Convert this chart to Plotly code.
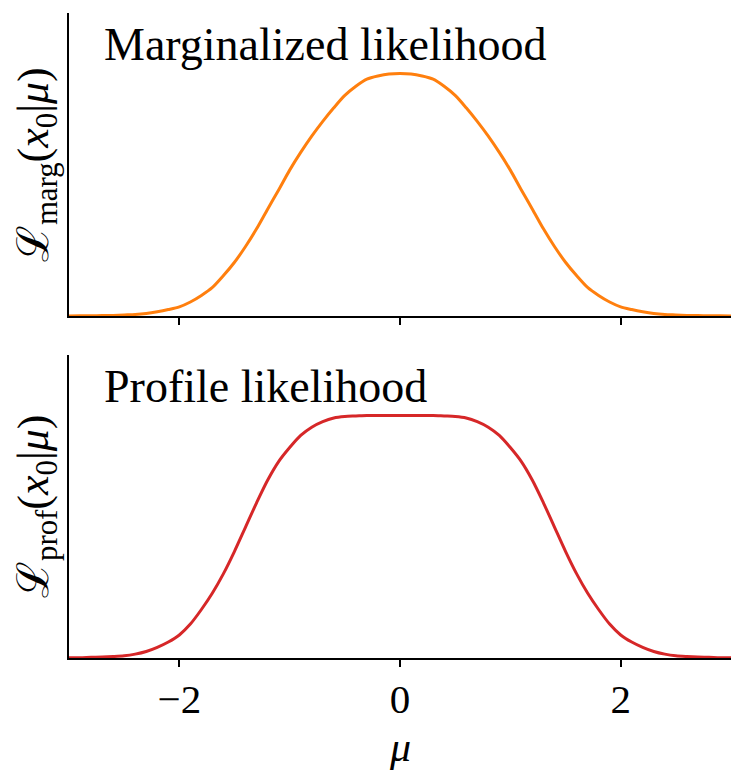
import plotly.graph_objects as go

# mu grid
mu = [-3.0, -2.9, -2.8, -2.7, -2.6, -2.5, -2.4, -2.3, -2.2, -2.1, -2.0, -1.9, -1.8, -1.7, -1.6,
      -1.5, -1.4, -1.3, -1.2, -1.1, -1.0, -0.9, -0.8, -0.7, -0.6, -0.5, -0.4, -0.3, -0.2, -0.1,
      0.0, 0.1, 0.2, 0.3, 0.4, 0.5, 0.6, 0.7, 0.8, 0.9, 1.0, 1.1, 1.2, 1.3, 1.4, 1.5, 1.6, 1.7,
      1.8, 1.9, 2.0, 2.1, 2.2, 2.3, 2.4, 2.5, 2.6, 2.7, 2.8, 2.9, 3.0]

# marginalized likelihood (normalised to peak 1)
L_marg = [0.0005, 0.001, 0.0015, 0.002, 0.003, 0.005, 0.007, 0.011, 0.018, 0.027, 0.038, 0.058,
          0.085, 0.118, 0.167, 0.222, 0.287, 0.36, 0.441, 0.52, 0.602, 0.675, 0.742, 0.803,
          0.859, 0.91, 0.948, 0.977, 0.99, 0.998,
          1.0,
          0.998, 0.99, 0.977, 0.948, 0.91, 0.859, 0.803, 0.742, 0.675, 0.602, 0.52, 0.441, 0.36,
          0.287, 0.222, 0.167, 0.118, 0.085, 0.058, 0.038, 0.027, 0.018, 0.011, 0.007, 0.005,
          0.003, 0.002, 0.0015, 0.001, 0.0005]

# profile likelihood (normalised to peak 1)
L_prof = [0.001, 0.0015, 0.003, 0.004, 0.006, 0.009, 0.016, 0.027, 0.044, 0.066, 0.095, 0.14,
          0.20, 0.268, 0.348, 0.44, 0.54, 0.64, 0.733, 0.81, 0.868, 0.918, 0.952, 0.975, 0.99,
          0.996, 0.998, 1.0, 1.0, 1.0,
          1.0,
          1.0, 1.0, 1.0, 0.998, 0.996, 0.99, 0.975, 0.952, 0.918, 0.868, 0.81, 0.733, 0.64,
          0.54, 0.44, 0.348, 0.268, 0.20, 0.14, 0.095, 0.066, 0.044, 0.027, 0.016, 0.009,
          0.006, 0.004, 0.003, 0.0015, 0.001]

tick_vals = [-2, 0, 2]
panel_titles = ["Marginalized likelihood", "Profile likelihood"]
y_labels = ["ℒ<sub>marg</sub>(<i>x</i><sub>0</sub>|<i>μ</i>)",
            "ℒ<sub>prof</sub>(<i>x</i><sub>0</sub>|<i>μ</i>)"]
x_label = "<i>μ</i>"

FONT = "Liberation Serif, DejaVu Serif, serif"
# page body adds an 8px offset; compensate so the axes land where the reference has them
W, H = 736, 774
ml, mr, mt, mb = 60.5, 13, 4.5, 124.3
ph = H - mt - mb
panel_h = 303.2
d_top = [1 - panel_h / ph, 1]
d_bot = [0, panel_h / ph]

fig = go.Figure()
fig.add_trace(go.Scatter(x=mu, y=L_marg, mode="lines", xaxis="x", yaxis="y",
                         line=dict(color="#ff7f0e", width=3, shape="spline", smoothing=0.8),
                         showlegend=False))
fig.add_trace(go.Scatter(x=mu, y=L_prof, mode="lines", xaxis="x2", yaxis="y2",
                         line=dict(color="#d62728", width=3, shape="spline", smoothing=0.8),
                         showlegend=False))

axis_common = dict(showgrid=False, zeroline=False, showline=True, linecolor="black",
                   linewidth=1.6, mirror=False)
xcommon = dict(axis_common, range=[-3, 3], tickvals=tick_vals, ticks="outside", ticklen=7,
               tickwidth=1.6, tickcolor="black")
ycommon = dict(axis_common, range=[0, 1.25], showticklabels=False, ticks="")

fig.update_layout(
    width=W, height=H,
    margin=dict(l=ml, r=mr, t=mt, b=mb),
    paper_bgcolor="white", plot_bgcolor="white",
    font=dict(family=FONT, size=40, color="black"),
    xaxis=dict(xcommon, domain=[0, 1], anchor="y", showticklabels=False),
    yaxis=dict(ycommon, domain=d_top, anchor="x"),
    xaxis2=dict(xcommon, domain=[0, 1], anchor="y2", matches="x", showticklabels=True,
                tickfont=dict(family=FONT, size=41), ticklabelstandoff=-3),
    yaxis2=dict(ycommon, domain=d_bot, anchor="x2"),
)

for i, (xr, yr) in enumerate([("x", "y"), ("x2", "y2")]):
    fig.add_annotation(text=panel_titles[i], xref=f"{xr} domain", yref=f"{yr} domain",
                       x=0.05, y=0.896, xanchor="left", yanchor="middle", showarrow=False,
                       font=dict(family=FONT, size=46, color="black"))
    fig.add_annotation(text=y_labels[i], xref=f"{xr} domain", yref=f"{yr} domain",
                       x=-0.049, y=0.5, xanchor="center", yanchor="middle", textangle=-90,
                       showarrow=False, font=dict(family=FONT, size=44, color="black"))

fig.add_annotation(text=x_label, xref="x2 domain", yref="y2 domain", x=0.5, y=-0.295,
                   xanchor="center", yanchor="middle", showarrow=False,
                   font=dict(family=FONT, size=42, color="black"))

fig.write_html("out.html")
